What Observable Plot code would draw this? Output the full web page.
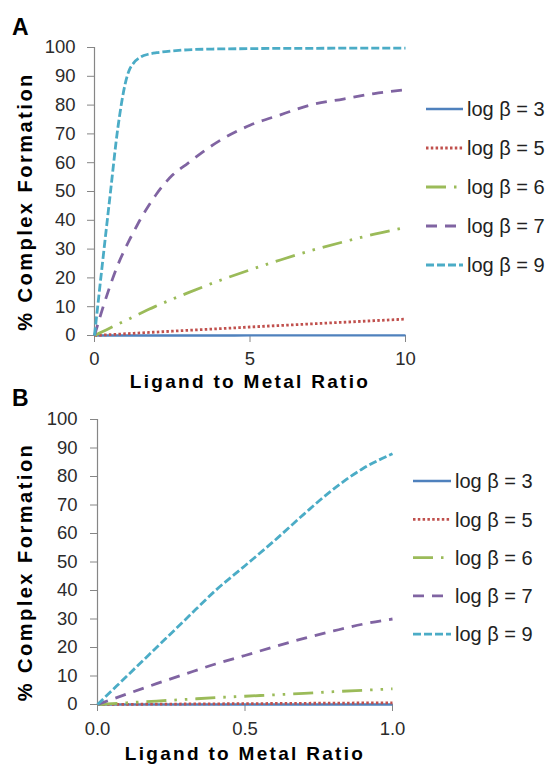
<!DOCTYPE html>
<html><head><meta charset="utf-8">
<script src="https://cdn.jsdelivr.net/npm/d3@7"></script>
<script src="https://cdn.jsdelivr.net/npm/@observablehq/plot@0.6"></script>
<style>
html,body{margin:0;padding:0;background:#fff;}
#page{position:relative;width:548px;height:769px;overflow:hidden;font-family:"Liberation Sans",Arial,sans-serif;}
#page svg{position:absolute;left:0;background:transparent;}
#page svg g[aria-label$="tick label"] text{font-size:18.5px !important;fill:#2b2b2b;}
.plabel{position:absolute;left:12px;font-weight:bold;font-size:23px;line-height:1;color:#000;}
</style></head><body><div id="page"></div>
<script>
// ---------- data ----------
const seriesNames = ["log β = 3", "log β = 5", "log β = 6", "log β = 7", "log β = 9"];
const seriesColors = ["#4F81BD", "#C0504D", "#9BBB59", "#8064A2", "#4BACC6"];
const seriesDash = [null, "2.5,2.3", "20,8,2.5,8,2.5,8", "11,8", "8,3"];
const yTicks = [0, 10, 20, 30, 40, 50, 60, 70, 80, 90, 100];
const xTicksA = [0, 5, 10];
const xTicksB = [0, 0.5, 1];

// Panel A: ligand-to-metal ratio 0..10
const ratioA = [0, 0.25, 0.5, 0.75, 1, 1.1, 1.25, 1.5, 1.75, 2, 2.5, 3, 4, 5, 6, 7, 8, 9, 10];
const logB3A = [0, 0, 0, 0, 0.01, 0.01, 0.01, 0.01, 0.01, 0.01, 0.02, 0.02, 0.02, 0.03, 0.04, 0.04, 0.05, 0.05, 0.06];
const logB5A = [0, 0.15, 0.3, 0.45, 0.6, 0.66, 0.75, 0.9, 1.05, 1.2, 1.5, 1.8, 2.35, 2.95, 3.5, 4.05, 4.6, 5.15, 5.7];
const logB6A = [0, 1.3, 2.6, 3.9, 5.2, 5.7, 6.5, 7.8, 9.1, 10.3, 12.6, 14.8, 19, 22.8, 26.3, 29.6, 32.5, 35.2, 37.5];
const logB7A = [0, 9, 17.2, 24.5, 30.5, 32.7, 35.8, 40.8, 45.2, 49.2, 55.6, 59.8, 67.5, 73, 76.7, 80.2, 82.1, 84, 85.3];
const logB9A = [0, 24.5, 48.5, 72, 88, 91.7, 94.5, 96.8, 97.7, 98.2, 98.8, 99.2, 99.5, 99.6, 99.7, 99.7, 99.8, 99.8, 99.8];

// Panel B: ligand-to-metal ratio 0..1
const ratioB = [0, 0.1, 0.2, 0.3, 0.4, 0.5, 0.6, 0.7, 0.8, 0.9, 1.0];
const logB3B = [0, 0, 0, 0, 0, 0.01, 0.01, 0.01, 0.01, 0.01, 0.01];
const logB5B = [0, 0.06, 0.12, 0.18, 0.24, 0.3, 0.36, 0.42, 0.48, 0.54, 0.6];
const logB6B = [0, 0.6, 1.2, 1.8, 2.4, 2.9, 3.4, 3.9, 4.5, 5.0, 5.5];
const logB7B = [0, 3.7, 7.3, 10.8, 14.2, 17.2, 20.3, 23.2, 25.8, 28.2, 30];
const logB9B = [0, 10, 20, 30, 40, 48.7, 57.5, 66.8, 75.6, 82.8, 88];

const yTitle = "% Complex Formation";
const xTitle = "Ligand to Metal Ratio";

// ---------- drawing ----------
const FONT = "Liberation Sans, Arial, Helvetica, sans-serif";
const page = document.getElementById("page");

function panel(cfg) {
  const lines = cfg.series.map((vals, k) =>
    Plot.line(cfg.ratio.map((r, i) => ({x: r, y: vals[i]})), {
      x: "x", y: "y", curve: "monotone-x",
      stroke: seriesColors[k], strokeWidth: k === 0 ? 2.4 : 2.8,
      strokeDasharray: seriesDash[k] || undefined, strokeLinecap: "butt"
    }));
  const svg = Plot.plot({
    width: 548, height: cfg.height,
    marginLeft: cfg.ml, marginRight: cfg.mr, marginTop: cfg.mt, marginBottom: cfg.mb,
    style: {fontFamily: FONT, fontSize: "18px", background: "transparent", overflow: "visible", color: "#333"},
    x: {domain: cfg.xDomain},
    y: {domain: [0, 100]},
    marks: [
      Plot.ruleX([0], {stroke: "#868686", strokeWidth: 1.2}),
      Plot.axisY(yTicks, {tickSize: 7, tickPadding: cfg.yPad, stroke: "#868686", fill: "#2b2b2b", fontSize: 18.5, label: null}),
      Plot.axisX(cfg.xTicks, {tickSize: 7, tickPadding: cfg.xPad, stroke: "#868686", fill: "#2b2b2b", fontSize: 18.5, label: null, tickFormat: cfg.xFormat}),
      Plot.ruleY([0], {stroke: "#868686", strokeWidth: 1.2}),
      ...lines,
      Plot.text([yTitle], {frameAnchor: "left", textAnchor: "middle", rotate: -90, dx: cfg.ytDx, dy: cfg.ytDy, fontWeight: "bold", fontSize: 20, fill: "#000"}),
      Plot.text([xTitle], {frameAnchor: "bottom", textAnchor: "middle", dy: cfg.xtDy, fontWeight: "bold", fontSize: 19, fill: "#000"})
    ]
  });
  svg.style.top = cfg.top + "px";
  d3.select(svg).selectAll("text").each(function () {
    const t = this.textContent;
    if (t === yTitle) { this.style.letterSpacing = "2.5px"; this.setAttribute("font-size", 20); }
    else if (t === xTitle) { this.style.letterSpacing = "2.3px"; this.setAttribute("font-size", 19); }
  });
  page.appendChild(svg);

  // legend
  const lg = d3.select(page).append("svg")
    .attr("width", 548).attr("height", 769).style("top", "0px").style("pointer-events", "none");
  seriesNames.forEach((name, k) => {
    const y = cfg.lgY + k * cfg.lgStep;
    lg.append("line")
      .attr("x1", cfg.lgX).attr("x2", cfg.lgX + cfg.lgLen).attr("y1", y).attr("y2", y)
      .attr("stroke", seriesColors[k]).attr("stroke-width", k === 0 ? 2.4 : 2.8)
      .attr("stroke-dasharray", seriesDash[k]);
    lg.append("text")
      .attr("x", cfg.lgX + cfg.lgLen + 4).attr("y", y).attr("dy", "0.36em")
      .attr("font-family", FONT).attr("font-size", 20).attr("fill", "#222")
      .text(name);
  });

  const lab = document.createElement("div");
  lab.className = "plabel";
  lab.style.top = cfg.labTop + "px";
  lab.textContent = cfg.label;
  page.appendChild(lab);
}

panel({
  label: "A", labTop: 16, top: 0, height: 400,
  ml: 94, mr: 143, mt: 47, mb: 65,
  ratio: ratioA, series: [logB3A, logB5A, logB6A, logB7A, logB9A],
  xDomain: [0, 10], xTicks: xTicksA, xFormat: d3.format("d"),
  yPad: 12, xPad: 9, ytDx: -69, ytDy: 10, xtDy: 52,
  lgX: 426, lgLen: 37, lgY: 109, lgStep: 39
});
panel({
  label: "B", labTop: 387, top: 385, height: 384,
  ml: 97, mr: 156, mt: 34, mb: 65,
  ratio: ratioB, series: [logB3B, logB5B, logB6B, logB7B, logB9B],
  xDomain: [0, 1], xTicks: xTicksB, xFormat: d3.format(".1f"),
  yPad: 13, xPad: 10, ytDx: -72, ytDy: 10, xtDy: 55,
  lgX: 413, lgLen: 38, lgY: 481, lgStep: 38.3
});
</script></body></html>
